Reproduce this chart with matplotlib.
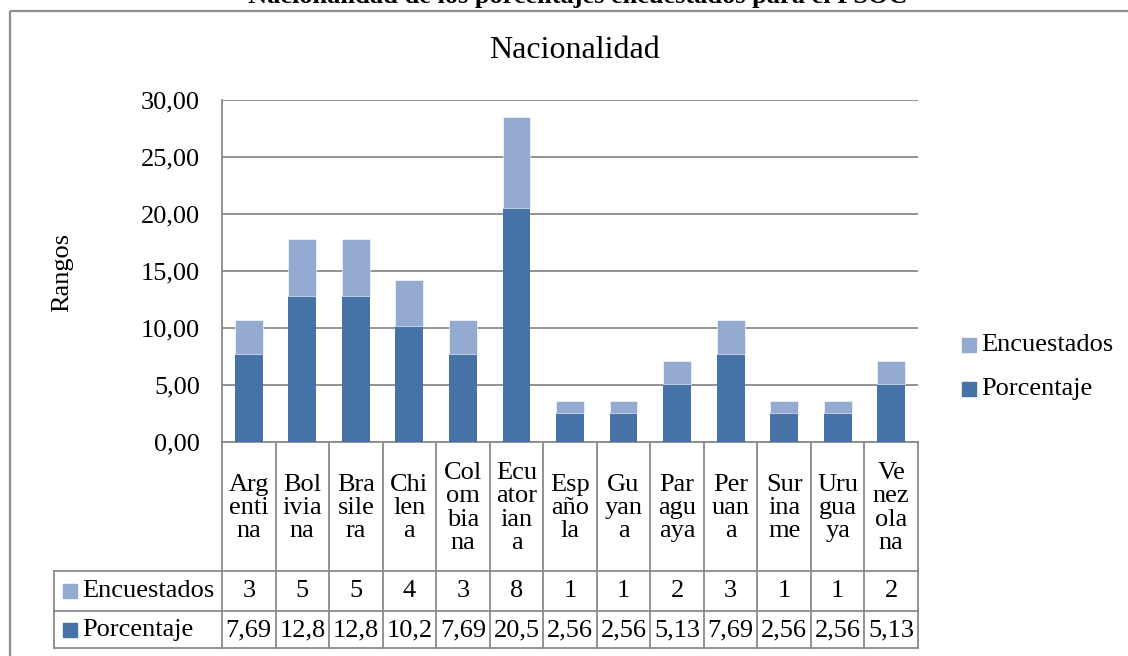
import matplotlib
matplotlib.use("Agg")
import matplotlib.pyplot as plt
import matplotlib.transforms as mtransforms
from matplotlib.patches import Rectangle
import numpy as np

plt.rcParams['font.family'] = ['Liberation Serif', 'DejaVu Serif']

# ---- data ----
categories = ["Argentina", "Boliviana", "Brasilera", "Chilena", "Colombiana",
              "Ecuatoriana", "Española", "Guyana", "Paraguaya", "Peruana",
              "Suriname", "Uruguaya", "Venezolana"]
cat_labels = ["Arg\nenti\nna", "Bol\nivia\nna", "Bra\nsile\nra", "Chi\nlen\na",
              "Col\nom\nbia\nna", "Ecu\nator\nian\na", "Esp\naño\nla", "Gu\nyan\na",
              "Par\nagu\naya", "Per\nuan\na", "Sur\nina\nme", "Uru\ngua\nya",
              "Ve\nnez\nola\nna"]
encuestados = [3, 5, 5, 4, 3, 8, 1, 1, 2, 3, 1, 1, 2]
porcentaje = [7.69, 12.8, 12.8, 10.2, 7.69, 20.5, 2.56, 2.56, 5.13, 7.69, 2.56, 2.56, 5.13]
porcentaje_txt = ["7,69", "12,8", "12,8", "10,2", "7,69", "20,5", "2,56", "2,56",
                  "5,13", "7,69", "2,56", "2,56", "5,13"]
series_names = ["Encuestados", "Porcentaje"]
y_ticks = [0, 5, 10, 15, 20, 25, 30]

dark = '#4672A8'
light = '#94AAD0'
grid_c = '#8A8A8A'
fs = 19

W, H = 1128, 656
fig = plt.figure(figsize=(W / 100, H / 100), dpi=100)

def fx(px):
    return px / W

def fy(py):
    return 1 - py / H

# main axes: x 222..918, y 100..442
ax = fig.add_axes([fx(222), fy(442), fx(918) - fx(222), (442 - 100) / H])
x = np.arange(len(categories))
ax.bar(x, porcentaje, width=0.52, color=dark, zorder=3)
ax.bar(x, encuestados, bottom=porcentaje, width=0.52, color=light, zorder=3,
       edgecolor='white', linewidth=0.4)
ax.set_xlim(-0.5, len(categories) - 0.5)
ax.set_ylim(0, 30)
ax.set_yticks(y_ticks)
ax.set_yticklabels([f"{v:.2f}".replace('.', ',') for v in y_ticks], fontsize=fs)
ax.set_xticks([])
ax.tick_params(axis='y', length=0, pad=16)
ax.yaxis.grid(True, color=grid_c, linewidth=1.3, zorder=0)
ax.set_axisbelow(True)
for s in ['top', 'right']:
    ax.spines[s].set_visible(False)
for s in ['left', 'bottom']:
    ax.spines[s].set_color(grid_c)
    ax.spines[s].set_linewidth(1.3)

# overlay in pixel coordinates
ov = fig.add_axes([0, 0, 1, 1], facecolor='none')
ov.set_xlim(0, W)
ov.set_ylim(H, 0)
ov.axis('off')
bt = mtransforms.blended_transform_factory(ax.transData, ov.transData)

# outer border
ov.add_patch(Rectangle((10, 11), W + 20, H + 20, fill=False, edgecolor='#8C8C8C',
                       linewidth=1.6, clip_on=False))

# caption cut off at the very top (as in the reference)
ov.text(578, 2.5, "Nacionalidad de los porcentajes encuestados para el PSOC",
        ha='center', va='baseline', fontsize=19, fontweight='bold', color='black')

# title
ov.text(575, 50, "Nacionalidad", ha='center', va='center', fontsize=23)

# y label
ov.text(62, 272, "Rangos", ha='center', va='center', rotation=90, fontsize=fs)

# table lines
row_top, row_mid, row_bot = 571, 611, 648
for yy in (row_top, row_mid, row_bot):
    ov.plot([54, 918], [yy, yy], color=grid_c, lw=1.3, clip_on=False)
ov.plot([54, 54], [row_top, row_bot], color=grid_c, lw=1.3)
for i in range(len(categories) + 1):
    ov.plot([i - 0.5, i - 0.5], [442, row_bot], color=grid_c, lw=1.3, transform=bt)

# table texts
for i, lab in enumerate(cat_labels):
    ov.text(i, 508, lab, ha='center', va='center', fontsize=fs, linespacing=1.07,
            transform=bt)
    ov.text(i, 591, str(encuestados[i]), ha='center', va='center', fontsize=fs,
            transform=bt)
    ov.text(i, 630, porcentaje_txt[i], ha='center', va='center', fontsize=fs,
            transform=bt)

# table legend keys
for (name, col, yc) in [(series_names[0], light, 591), (series_names[1], dark, 630)]:
    ov.add_patch(Rectangle((63, yc - 7), 14, 14, color=col))
    ov.text(82, yc, name, ha='left', va='center', fontsize=fs)

# right legend
for (name, col, yc) in [(series_names[0], light, 345), (series_names[1], dark, 389)]:
    ov.add_patch(Rectangle((962, yc - 7), 14, 14, color=col))
    ov.text(981, yc, name, ha='left', va='center', fontsize=fs)

fig.savefig("out.png", dpi=100)
